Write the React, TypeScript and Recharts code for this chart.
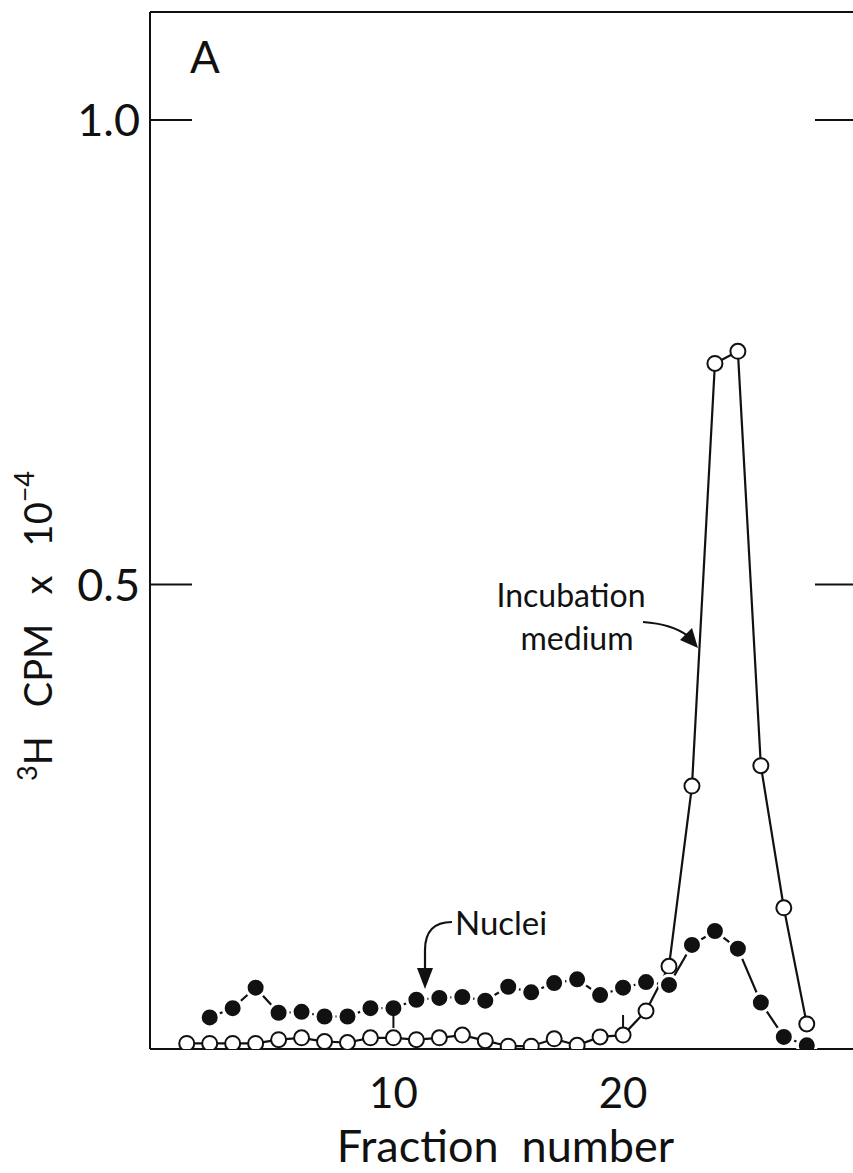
import { Line, LineChart, XAxis, YAxis } from 'recharts'

const fractions = [1, 2, 3, 4, 5, 6, 7, 8, 9, 10, 11, 12, 13, 14, 15, 16, 17, 18, 19, 20, 21, 22, 23, 24, 25, 26, 27, 28]
const incubationMedium = [
  0.006, 0.006, 0.006, 0.006, 0.01, 0.012, 0.008, 0.007, 0.012, 0.012, 0.01, 0.012, 0.015, 0.009,
  0.003, 0.003, 0.011, 0.004, 0.013, 0.015, 0.041, 0.089, 0.283, 0.738, 0.751, 0.305, 0.152, 0.027,
]
const nuclei = [
  null, 0.034, 0.044, 0.066, 0.039, 0.04, 0.035, 0.035, 0.044, 0.044, 0.053, 0.055, 0.056, 0.052,
  0.067, 0.061, 0.071, 0.075, 0.058, 0.066, 0.072, 0.069, 0.112, 0.127, 0.108, 0.05, 0.013, 0.004,
]
const xTicks = [10, 20]
const yTicks = [0.5, 1.0]
const xDomain: [number, number] = [-0.6, 30.1]
const yDomain: [number, number] = [0, 1.1163]

const INK = '#111'
const FONT = 'Lato, "Open Sans", sans-serif'

const data = fractions.map((fraction, i) => ({
  fraction,
  medium: incubationMedium[i],
  nuclei: nuclei[i],
}))

function LeftTick({ x, y, payload }: any) {
  return (
    <g>
      <text x={x - 10} y={y} dy="0.36em" textAnchor="end" fontSize={45} fill={INK} fontFamily={FONT}>
        {Number(payload.value).toFixed(1)}
      </text>
      <line x1={x} x2={x + 42} y1={y} y2={y} stroke={INK} strokeWidth={2} />
    </g>
  )
}

function RightTick({ x, y }: any) {
  return <line x1={x - 40} x2={x} y1={y} y2={y} stroke={INK} strokeWidth={2} />
}

// small inward tick sits above the open circles, label well below the axis
function BottomTick({ x, y, payload }: any) {
  return (
    <g>
      <line x1={x} x2={x} y1={y - 34} y2={y - 21} stroke={INK} strokeWidth={2} />
      <text x={x} y={y + 59} textAnchor="middle" fontSize={42} fill={INK} fontFamily={FONT}>
        {payload.value}
      </text>
    </g>
  )
}

function XTitle({ viewBox }: any) {
  const { x, y, width } = viewBox
  return (
    <text
      x={x + width / 2 + 3}
      y={y + 113}
      textAnchor="middle"
      fontSize={45}
      fill={INK}
      fontFamily={FONT}
      style={{ whiteSpace: 'pre' }}
    >
      {'Fraction  number'}
    </text>
  )
}

function YTitle({ viewBox }: any) {
  const cx = 52
  const cy = viewBox.y + 614
  return (
    <text
      x={cx}
      y={cy}
      transform={`rotate(-90, ${cx}, ${cy})`}
      textAnchor="middle"
      fontSize={38}
      fill={INK}
      fontFamily={FONT}
      style={{ whiteSpace: 'pre' }}
    >
      <tspan fontSize={27} dy={-15}>3</tspan>
      <tspan dy={15}>{'H   CPM   x   10'}</tspan>
      <tspan fontSize={27} dy={-18}>−4</tspan>
    </text>
  )
}

export default function App() {
  return (
    <div style={{ position: 'absolute', left: 0, top: 0, width: 853, height: 1173, overflow: 'hidden', background: '#fff' }}>
      <LineChart width={870} height={1173} data={data} margin={{ top: 11, right: 14, bottom: 0, left: 0 }}>
        <XAxis
          dataKey="fraction"
          type="number"
          domain={xDomain}
          ticks={xTicks}
          allowDataOverflow
          height={124}
          tickLine={false}
          tickSize={0}
          tickMargin={0}
          tick={<BottomTick />}
          axisLine={{ stroke: INK, strokeWidth: 2 }}
          label={<XTitle />}
        />
        <XAxis
          xAxisId="top"
          orientation="top"
          dataKey="fraction"
          type="number"
          domain={xDomain}
          allowDataOverflow
          height={1}
          tick={false}
          tickLine={false}
          axisLine={{ stroke: INK, strokeWidth: 2 }}
        />
        <YAxis
          type="number"
          domain={yDomain}
          ticks={yTicks}
          allowDataOverflow
          width={150}
          tickLine={false}
          tickSize={0}
          tickMargin={0}
          tick={<LeftTick />}
          axisLine={{ stroke: INK, strokeWidth: 2 }}
          label={<YTitle />}
        />
        <YAxis
          yAxisId="right"
          orientation="right"
          type="number"
          domain={yDomain}
          ticks={yTicks}
          allowDataOverflow
          width={1}
          tickLine={false}
          tickSize={0}
          tickMargin={0}
          tick={<RightTick />}
          axisLine={{ stroke: INK, strokeWidth: 2 }}
        />
        <Line
          dataKey="medium"
          yAxisId="right"
          stroke={INK}
          strokeWidth={2.2}
          dot={{ r: 7.5, fill: '#fff', stroke: INK, strokeWidth: 2 }}
          activeDot={false}
          isAnimationActive={false}
        />
        <Line
          dataKey="nuclei"
          xAxisId="top"
          stroke={INK}
          strokeWidth={2.2}
          dot={{ r: 9.5, fill: INK, stroke: '#fff', strokeWidth: 3 }}
          activeDot={false}
          isAnimationActive={false}
        />
      </LineChart>
      <svg
        width={853}
        height={1173}
        style={{ position: 'absolute', left: 0, top: 0, pointerEvents: 'none' }}
      >
        <text x={190} y={73} fontSize={44} fill={INK} fontFamily={FONT}>A</text>
        <text x={571} y={607} textAnchor="middle" fontSize={32} fill={INK} fontFamily={FONT}>Incubation</text>
        <text x={577} y={650} textAnchor="middle" fontSize={32} fill={INK} fontFamily={FONT}>medium</text>
        <path d="M643,622 Q672,624 688,636" fill="none" stroke={INK} strokeWidth={2.2} />
        <path d="M698,648 L680,640 L692,628 z" fill={INK} />
        <text x={455} y={935} fontSize={33} fill={INK} fontFamily={FONT}>Nuclei</text>
        <path d="M452,922 Q425,922 425,950 L425,970" fill="none" stroke={INK} strokeWidth={2.2} />
        <path d="M417,968 L425,989 L433,968 z" fill={INK} />
      </svg>
    </div>
  )
}
